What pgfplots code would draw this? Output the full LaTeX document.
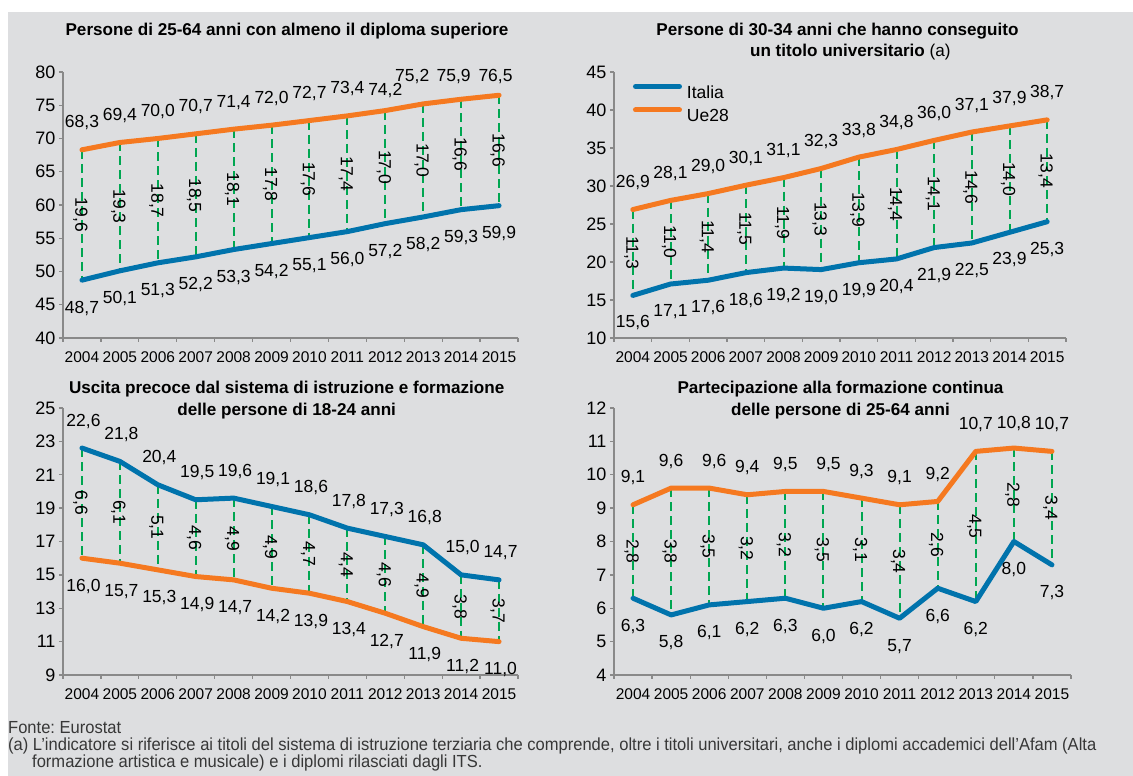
\documentclass[border=0pt]{standalone}
\usepackage{fontspec}
\setmainfont{Liberation Sans}
\newfontfamily\condfont[FakeStretch=0.945]{Liberation Sans}
\usepackage{pgfplots}
\usepackage{pgfplotstable}
\pgfplotsset{compat=1.18}
\frenchspacing

\definecolor{bgray}{RGB}{221,222,224}
\definecolor{cblue}{RGB}{0,115,172}
\definecolor{corange}{RGB}{245,121,32}
\definecolor{cgreen}{RGB}{0,166,81}
\definecolor{caxis}{RGB}{137,137,137}
\definecolor{ftext}{RGB}{55,55,55}

% Persone di 25-64 anni con almeno il diploma superiore
\pgfplotstableread{
x ita ue diff
0 48.7 68.3 19.6
1 50.1 69.4 19.3
2 51.3 70.0 18.7
3 52.2 70.7 18.5
4 53.3 71.4 18.1
5 54.2 72.0 17.8
6 55.1 72.7 17.6
7 56.0 73.4 17.4
8 57.2 74.2 17.0
9 58.2 75.2 17.0
10 59.3 75.9 16.6
11 59.9 76.5 16.6
}\tabA

% Persone di 30-34 anni con titolo universitario
\pgfplotstableread{
x ita ue diff
0 15.6 26.9 11.3
1 17.1 28.1 11.0
2 17.6 29.0 11.4
3 18.6 30.1 11.5
4 19.2 31.1 11.9
5 19.0 32.3 13.3
6 19.9 33.8 13.9
7 20.4 34.8 14.4
8 21.9 36.0 14.1
9 22.5 37.1 14.6
10 23.9 37.9 14.0
11 25.3 38.7 13.4
}\tabB

% Uscita precoce
\pgfplotstableread{
x ita ue diff
0 22.6 16.0 6.6
1 21.8 15.7 6.1
2 20.4 15.3 5.1
3 19.5 14.9 4.6
4 19.6 14.7 4.9
5 19.1 14.2 4.9
6 18.6 13.9 4.7
7 17.8 13.4 4.4
8 17.3 12.7 4.6
9 16.8 11.9 4.9
10 15.0 11.2 3.8
11 14.7 11.0 3.7
}\tabC

% Partecipazione alla formazione continua
\pgfplotstableread{
x ita ue diff
0 6.3 9.1 2.8
1 5.8 9.6 3.8
2 6.1 9.6 3.5
3 6.2 9.4 3.2
4 6.3 9.5 3.2
5 6.0 9.5 3.5
6 6.2 9.3 3.1
7 5.7 9.1 3.4
8 6.6 9.2 2.6
9 6.2 10.7 4.5
10 8.0 10.8 2.8
11 7.3 10.7 3.4
}\tabD

\pgfplotsset{
  panel/.style={
    scale only axis, clip=false,
    axis x line*=bottom, axis y line*=left,
    axis line style={draw=caxis, line width=1.3pt},
    xmin=-0.5, xmax=11.5, enlargelimits=false,
    xtick={0,...,11},
    xticklabels={2004,2005,2006,2007,2008,2009,2010,2011,2012,2013,2014,2015},
    minor xtick={-0.5,0.5,...,11.5},
    tick align=outside,
    major tick length=4pt, minor tick length=4pt,
    tick style={draw=caxis, line width=1.3pt},
    major x tick style={draw=none},
    yticklabel style={font=\fontsize{18}{21}\selectfont},
    xticklabel style={font=\fontsize{15.5}{18}\selectfont, yshift=-6pt},
    /pgf/number format/assume math mode=true,
  },
  lineblue/.style={cblue, line width=5pt, line join=round, line cap=round, mark=none},
  lineorange/.style={corange, line width=5pt, line join=round, line cap=round, mark=none},
  drops/.style={draw=none, mark=none, forget plot,
    error bars/.cd, y dir=minus, y explicit, error mark=none,
    error bar style={draw=cgreen, line width=2pt, dash pattern=on 9pt off 5pt}},
  lab/.style={nodes near coords={\pgfmathprintnumber[fixed,fixed zerofill,precision=1,use comma,assume math mode=true]{\pgfplotspointmeta}},
    point meta=explicit,
    every node near coord/.append style={font=\fontsize{17.5}{20}\selectfont, text=black, anchor=center, inner sep=0pt}},
  labonly/.style={draw=none, mark=none, forget plot, lab,
    every node near coord/.append style={#1}},
  difflab/.style={draw=none, mark=none, forget plot, lab,
    every node near coord/.append style={rotate=-90, yshift=-1.5pt}},
}

\begin{document}
\begin{tikzpicture}
\useasboundingbox (0,0) rectangle (1133pt,776pt);
\fill[bgray] (8pt,0pt) rectangle (1133pt,764pt);

% ---------- Panel 1 ----------
\begin{axis}[panel, at={(63pt,438pt)}, anchor=south west, width=455pt, height=266pt,
  ymin=40, ymax=80, ytick={40,45,...,80}]
\addplot[drops] table[x=x, y=ue, y error minus=diff]{\tabA};
\addplot[lineblue, forget plot] table[x=x, y=ita]{\tabA};
\addplot[lineorange, forget plot] table[x=x, y=ue]{\tabA};
\addplot[labonly={yshift=-28pt}] table[x=x, y=ita, meta=ita]{\tabA};
\addplot[labonly={yshift=27pt}, skip coords between index={8}{12}] table[x=x, y=ue, meta=ue]{\tabA};
\addplot[labonly={yshift=20pt}] coordinates {(8,74.2) [74.2]};
\addplot[labonly={xshift=-11pt,yshift=27pt}] coordinates {(9,75.2) [75.2]};
\addplot[labonly={xshift=-7.5pt,yshift=22.5pt}] coordinates {(10,75.9) [75.9]};
\addplot[labonly={xshift=-3.5pt,yshift=19pt}] coordinates {(11,76.5) [76.5]};
\addplot[difflab] table[x=x, y expr=(\thisrow{ita}+\thisrow{ue})/2, meta=diff]{\tabA};
\end{axis}

% ---------- Panel 2 ----------
\begin{axis}[panel, at={(614pt,438pt)}, anchor=south west, width=452pt, height=266pt,
  ymin=10, ymax=45, ytick={10,15,...,45},
  legend style={at={(0.042,0.955)}, anchor=north west, draw=none, fill=none,
    inner sep=0pt, outer sep=0pt, row sep=9pt, column sep=5pt,
    font=\fontsize{17.5}{20}\selectfont,
    nodes={inner sep=0pt, text height=12pt, text depth=0pt}},
  legend cell align=left,
  legend image code/.code={\draw[#1] (2.5pt,6pt) -- (46.5pt,6pt);}]
\addplot[drops] table[x=x, y=ue, y error minus=diff]{\tabB};
\addplot[lineblue, forget plot] table[x=x, y=ita]{\tabB};
\addplot[lineorange, forget plot] table[x=x, y=ue]{\tabB};
\addplot[labonly={yshift=-27.5pt}] table[x=x, y=ita, meta=ita]{\tabB};
\addplot[labonly={yshift=27pt}] table[x=x, y=ue, meta=ue]{\tabB};
\addplot[difflab] table[x=x, y expr=(\thisrow{ita}+\thisrow{ue})/2, meta=diff]{\tabB};
\addlegendimage{lineblue}
\addlegendentry{Italia}
\addlegendimage{lineorange}
\addlegendentry{Ue28}
\end{axis}

% ---------- Panel 3 ----------
\begin{axis}[panel, at={(63pt,101pt)}, anchor=south west, width=455pt, height=267pt,
  ymin=9, ymax=25, ytick={9,11,...,25}]
\addplot[drops] table[x=x, y=ita, y error minus=diff]{\tabC};
\addplot[lineorange, forget plot] table[x=x, y=ue]{\tabC};
\addplot[lineblue, forget plot] table[x=x, y=ita]{\tabC};
\addplot[labonly={yshift=-28pt, xshift=1.5pt}] table[x=x, y=ue, meta=ue]{\tabC};
\addplot[labonly={yshift=27pt, xshift=1.5pt}] table[x=x, y=ita, meta=ita]{\tabC};
\addplot[difflab] table[x=x, y expr=(\thisrow{ita}+\thisrow{ue})/2, meta=diff]{\tabC};
\end{axis}

% ---------- Panel 4 ----------
\begin{axis}[panel, at={(614pt,101pt)}, anchor=south west, width=457pt, height=267pt,
  ymin=4, ymax=12, ytick={4,5,...,12}]
\addplot[drops] table[x=x, y=ue, y error minus=diff]{\tabD};
\addplot[lineblue, forget plot] table[x=x, y=ita]{\tabD};
\addplot[lineorange, forget plot] table[x=x, y=ue]{\tabD};
\addplot[labonly={yshift=-28pt}] table[x=x, y=ita, meta=ita]{\tabD};
\addplot[labonly={yshift=27pt}, skip coords between index={2}{3}, skip coords between index={5}{6}, skip coords between index={10}{11}] table[x=x, y=ue, meta=ue]{\tabD};
\addplot[labonly={xshift=5pt,yshift=27pt}] coordinates {(2,9.6) [9.6] (5,9.5) [9.5]};
\addplot[labonly={yshift=25pt}] coordinates {(10,10.8) [10.8]};
\addplot[difflab] table[x=x, y expr=(\thisrow{ita}+\thisrow{ue})/2, meta=diff]{\tabD};
\end{axis}

% ---------- Titles ----------
\begin{scope}[every node/.style={inner sep=0pt, anchor=base, font=\bfseries\fontsize{17.1}{20}\selectfont}]
\node at (287pt,740pt) {Persone di 25-64 anni con almeno il diploma superiore};
\node at (837.5pt,740pt) {Persone di 30-34 anni che hanno conseguito};
\node at (837.5pt,719pt) {un titolo universitario\rlap{\normalfont\ (a)}};
\node at (286.7pt,382pt) {Uscita precoce dal sistema di istruzione e formazione};
\node at (286.7pt,360pt) {delle persone di 18-24 anni};
\node at (840.5pt,382pt) {Partecipazione alla formazione continua};
\node at (840.5pt,360pt) {delle persone di 25-64 anni};
\end{scope}

% ---------- Footnotes ----------
\begin{scope}[every node/.style={inner sep=0pt, anchor=base west, text=ftext, font=\condfont\fontsize{17.5}{18}\selectfont}]
\node at (8pt,42pt) {Fonte: Eurostat};
\node at (8pt,25pt) {(a) L’indicatore si riferisce ai titoli del sistema di istruzione terziaria che comprende, oltre i titoli universitari, anche i diplomi accademici dell’Afam (Alta};
\node at (32pt,8pt) {formazione artistica e musicale) e i diplomi rilasciati dagli ITS.};
\end{scope}
\end{tikzpicture}
\end{document}
